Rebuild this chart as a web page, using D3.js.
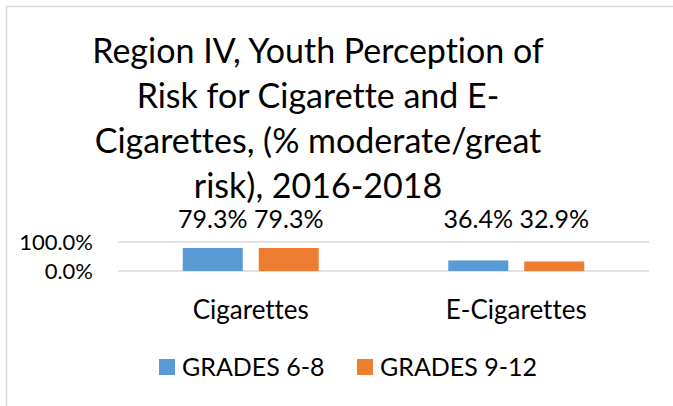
<!DOCTYPE html>
<html>
<head>
<meta charset="utf-8">
<script src="https://cdn.jsdelivr.net/npm/d3@7"></script>
<style>
  body { margin: 0; background: #fff; }
  svg text { font-family: Lato, "Open Sans", sans-serif; fill: #000; font-variant-ligatures: none; }
</style>
</head>
<body>
<div id="chart"></div>
<script>
const categories = ["Cigarettes", "E-Cigarettes"];
const seriesNames = ["GRADES 6-8", "GRADES 9-12"];
const grades68 = [0.793, 0.364];
const grades912 = [0.793, 0.329];
const yTicks = [0, 1];
const titleLines = [
  "Region IV, Youth Perception of",
  "Risk for Cigarette and E-",
  "Cigarettes, (% moderate/great",
  "risk), 2016-2018"
];

document.addEventListener("DOMContentLoaded", () => {
  const width = 673, height = 406;
  const colors = ["#5B9BD5", "#ED7D31"];
  const margin = { top: 242, right: 24, bottom: 135, left: 118 };

  const svg = d3.select("#chart").append("svg")
    .attr("width", width)
    .attr("height", height);

  // chart area border
  svg.append("rect")
    .attr("x", 6.5).attr("y", 6.5)
    .attr("width", width + 10).attr("height", height + 10)
    .attr("fill", "none")
    .attr("stroke", "#D9D9D9")
    .attr("stroke-width", 1.5);

  // title
  svg.append("text")
    .attr("text-anchor", "middle")
    .style("font-size", "34px")
    .selectAll("tspan")
    .data(titleLines)
    .enter()
    .append("tspan")
    .attr("x", 318)
    .attr("y", (d, i) => 63 + i * 45)
    .text(d => d);

  const x0 = d3.scaleBand()
    .domain(categories)
    .range([margin.left, width - margin.right])
    .paddingOuter(0)
    .paddingInner(0);

  const x1 = d3.scaleBand()
    .domain(seriesNames)
    .range([0, 136])
    .paddingInner(0.21);

  const y = d3.scaleLinear()
    .domain([0, 1])
    .range([height - margin.bottom, margin.top]);

  // grid lines
  svg.append("g")
    .selectAll("line")
    .data(yTicks)
    .enter()
    .append("line")
    .attr("x1", margin.left)
    .attr("x2", width - margin.right)
    .attr("y1", d => y(d))
    .attr("y2", d => y(d))
    .attr("stroke", "#D9D9D9")
    .attr("stroke-width", 1.5);

  // y axis labels
  const yAxis = svg.append("g")
    .attr("transform", `translate(${margin.left},0)`)
    .call(d3.axisLeft(y).tickValues(yTicks).tickFormat(d3.format(".1%")).tickSize(0).tickPadding(25));
  yAxis.select(".domain").remove();
  yAxis.selectAll("text")
    .attr("font-family", null)
    .attr("fill", "#000")
    .attr("dy", "0.36em")
    .style("font-size", "22px");

  const rows = categories.map((c, i) => ({ cat: c, values: [grades68[i], grades912[i]] }));

  const groups = svg.append("g")
    .selectAll("g")
    .data(rows)
    .enter()
    .append("g")
    .attr("transform", d => `translate(${x0(d.cat) + (x0.bandwidth() - 136) / 2},0)`);

  groups.selectAll("rect")
    .data(d => d.values.map((v, j) => ({ name: seriesNames[j], value: v, j })))
    .enter()
    .append("rect")
    .attr("x", d => x1(d.name))
    .attr("width", x1.bandwidth())
    .attr("y", d => y(d.value))
    .attr("height", d => y(0) - y(d.value))
    .attr("fill", d => colors[d.j]);

  groups.selectAll("text")
    .data(d => d.values.map((v, j) => ({ name: seriesNames[j], value: v })))
    .enter()
    .append("text")
    .attr("x", d => x1(d.name) + x1.bandwidth() / 2)
    .attr("y", 228)
    .attr("text-anchor", "middle")
    .style("font-size", "25px")
    .text(d => d3.format(".1%")(d.value));

  // category labels
  svg.append("g")
    .selectAll("text")
    .data(categories)
    .enter()
    .append("text")
    .attr("x", d => x0(d) + x0.bandwidth() / 2)
    .attr("y", 319)
    .attr("text-anchor", "middle")
    .style("font-size", "26px")
    .text(d => d);

  // legend
  const legendX = [159, 357];
  const legend = svg.append("g")
    .selectAll("g")
    .data(seriesNames)
    .enter()
    .append("g")
    .attr("transform", (d, i) => `translate(${legendX[i]},359)`);
  legend.append("rect")
    .attr("width", 16).attr("height", 16)
    .attr("fill", (d, i) => colors[i]);
  legend.append("text")
    .attr("x", 23)
    .attr("y", 17)
    .style("font-size", "25px")
    .text(d => d);
});
</script>
</body>
</html>
